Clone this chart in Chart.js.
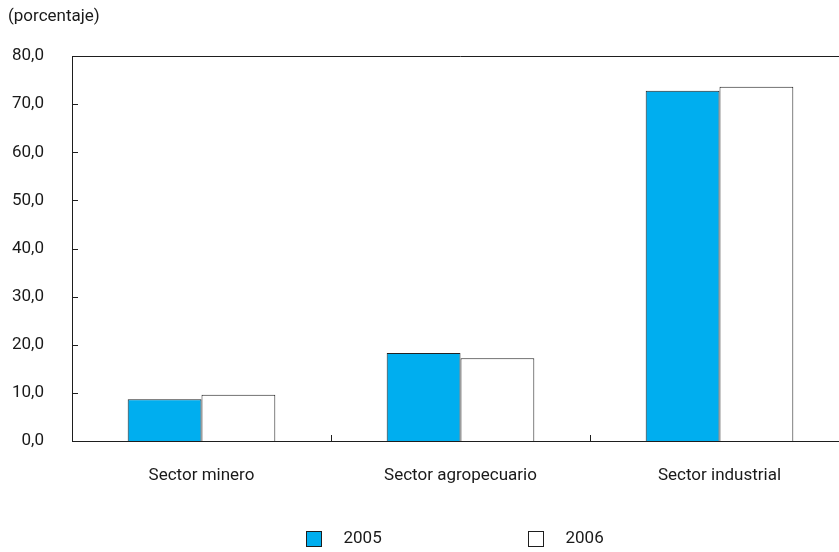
<!DOCTYPE html>
<html>
<head>
<meta charset="utf-8">
<script src="https://cdn.jsdelivr.net/npm/chart.js@4/dist/chart.umd.min.js"></script>
<style>
html,body{margin:0;padding:0;background:#fff;overflow:hidden;}
#wrap{width:849px;height:552px;position:relative;}
</style>
</head>
<body>
<div id="wrap"><canvas id="c"></canvas></div>
<script>
const categories = ['Sector minero', 'Sector agropecuario', 'Sector industrial'];
const values2005 = [8.7, 18.3, 72.8];
const values2006 = [9.6, 17.2, 73.6];
const seriesNames = ['2005', '2006'];
const yTickLabels = ['0,0', '10,0', '20,0', '30,0', '40,0', '50,0', '60,0', '70,0', '80,0'];
const unitLabel = '(porcentaje)';

const FONT = 'Roboto, "Liberation Sans", sans-serif';
const AXIS = '#1e1e1e';
const TEXT = '#1a1a1a';

const framePlugin = {
  id: 'frame',
  afterDraw(chart) {
    const ctx = chart.ctx;
    const area = chart.chartArea;
    const y = chart.scales.y, x = chart.scales.x;
    ctx.save();
    ctx.strokeStyle = AXIS;
    ctx.lineWidth = 1;
    // top line
    ctx.beginPath();
    ctx.moveTo(area.left, Math.round(area.top) + 0.5);
    ctx.lineTo(area.right, Math.round(area.top) + 0.5);
    ctx.stroke();
    // y inward ticks
    y.ticks.forEach((t) => {
      const py = Math.round(y.getPixelForValue(t.value)) + 0.5;
      ctx.beginPath();
      ctx.moveTo(area.left, py);
      ctx.lineTo(area.left + 6, py);
      ctx.stroke();
    });
    // x inward ticks between categories
    for (let i = 1; i < categories.length; i++) {
      const px = Math.round((x.getPixelForValue(i - 1) + x.getPixelForValue(i)) / 2) + 0.5;
      ctx.beginPath();
      ctx.moveTo(px, area.bottom);
      ctx.lineTo(px, area.bottom - 6);
      ctx.stroke();
    }
    // legend
    const ds = chart.data.datasets;
    const cx = (area.left + area.right) / 2 - 5;
    const ly = 539;
    const starts = [cx - 150, cx + 72];
    ctx.font = '17px ' + FONT;
    ctx.textBaseline = 'middle';
    ctx.textAlign = 'left';
    ds.forEach((d, i) => {
      const bx = Math.round(starts[i]) + 0.5;
      ctx.fillStyle = d.backgroundColor;
      ctx.fillRect(bx, ly - 8 + 0.5, 15, 15);
      ctx.strokeStyle = AXIS;
      ctx.strokeRect(bx, ly - 8 + 0.5, 15, 15);
      ctx.fillStyle = TEXT;
      ctx.fillText(d.label, starts[i] + 38, ly);
    });
    ctx.restore();
  }
};

new Chart(document.getElementById('c'), {
  type: 'bar',
  data: {
    labels: categories,
    datasets: [
      { label: seriesNames[0], data: values2005, backgroundColor: '#00AEEF', borderColor: '#222222', borderWidth: 1 },
      { label: seriesNames[1], data: values2006, backgroundColor: '#FFFFFF', borderColor: '#222222', borderWidth: 1 }
    ]
  },
  options: {
    responsive: true,
    maintainAspectRatio: false,
    animation: false,
    layout: { padding: { left: 8, right: 0, top: 0, bottom: 0 } },
    datasets: { bar: { categoryPercentage: 0.57, barPercentage: 1 } },
    plugins: {
      legend: { display: false },
      tooltip: { enabled: false },
      title: {
        display: true,
        text: unitLabel,
        align: 'start',
        color: TEXT,
        font: { family: FONT, size: 17, weight: 'normal' },
        padding: { top: 7, bottom: 28.6 }
      }
    },
    scales: {
      x: {
        grid: { display: false, drawTicks: false },
        border: { display: true, color: AXIS, width: 1 },
        ticks: { color: TEXT, font: { family: FONT, size: 17 }, padding: 25, maxRotation: 0 },
        afterFit(s) { s.height = 111; }
      },
      y: {
        min: 0, max: 80,
        grid: { display: false, drawTicks: false },
        border: { display: true, color: AXIS, width: 1 },
        ticks: {
          stepSize: 10,
          color: TEXT,
          font: { family: FONT, size: 17 },
          padding: 28,
          callback: (v, i) => yTickLabels[i]
        },
        afterFit(s) { s.width = 64; }
      }
    }
  },
  plugins: [framePlugin]
});
</script>
</body>
</html>
